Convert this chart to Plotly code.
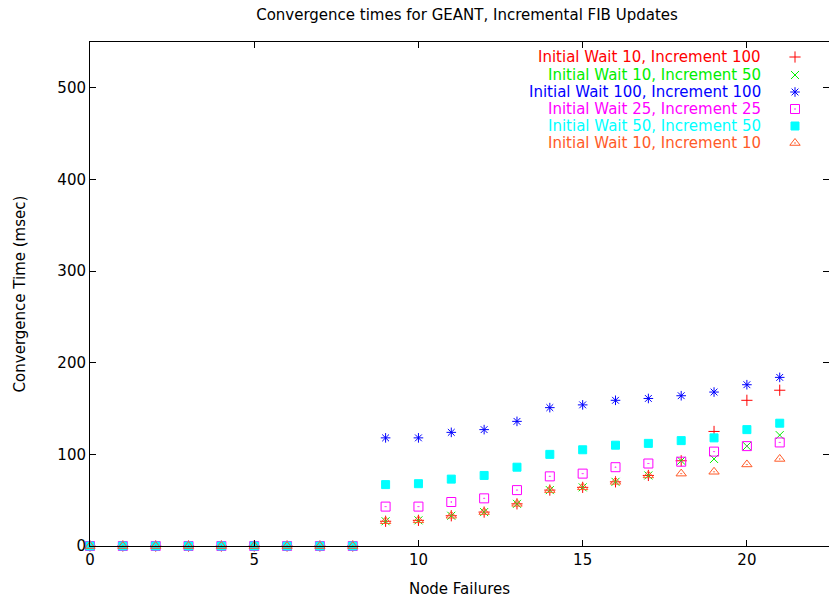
import plotly.graph_objects as go

# Node failure counts on the x axis
node_failures = list(range(22))

# Convergence times (msec) for each timer configuration
zeros = [0] * 9
wait10_inc100 = zeros + [27, 28, 33, 37, 46, 61, 64, 70, 77, 93, 125, 159, 170]
wait10_inc50 = zeros + [27, 28, 33, 37, 46, 61, 64, 70, 77, 93, 95, 109, 121]
wait100_inc100 = zeros + [118, 118, 124, 127, 136, 151, 154, 159, 161, 164, 168, 176, 184]
wait25_inc25 = zeros + [43, 43, 48, 52, 61, 76, 79, 86, 90, 92, 103, 109, 113]
wait50_inc50 = zeros + [67, 68, 73, 77, 86, 100, 105, 110, 112, 115, 118, 127, 134]
wait10_inc10 = zeros + [27, 28, 33, 37, 46, 61, 64, 70, 77, 79, 81, 89, 95]

series_names = [
    "Initial Wait 10, Increment 100",
    "Initial Wait 10, Increment 50",
    "Initial Wait 100, Increment 100",
    "Initial Wait 25, Increment 25",
    "Initial Wait 50, Increment 50",
    "Initial Wait 10, Increment 10",
]
series_values = [wait10_inc100, wait10_inc50, wait100_inc100,
                 wait25_inc25, wait50_inc50, wait10_inc10]
colors = ["#ff0000", "#00ee00", "#0000ff", "#ff00ff", "#00ffff", "#ff5a28"]
symbols = ["cross-thin-open", "x-thin-open", "asterisk-open",
           "square-open-dot", "square", "triangle-up-open-dot"]
sizes = [8, 8, 8, 9, 8, 9]

x_ticks = [0, 5, 10, 15, 20]
y_ticks = [0, 100, 200, 300, 400, 500]

W, H = 829, 598
ML, MT, MB, MR = 90, 42, 52, 0
FONT = "DejaVu Sans, Liberation Sans, Arial, sans-serif"
FS = 15

fig = go.Figure()
for name, vals, c, s, sz in zip(series_names, series_values, colors, symbols, sizes):
    fig.add_trace(go.Scatter(
        x=node_failures, y=vals, mode="markers", name=name, showlegend=False,
        marker=dict(symbol=s, size=sz, color=c, line=dict(color=c, width=1)),
        cliponaxis=False,
    ))

# Key drawn in the top-right corner: right-aligned labels with the symbol after them
plot_w = W - ML - MR
plot_h = H - MT - MB
key_rows_px = [57, 75, 92, 109, 126, 143]
key_sym_x = (795 - ML) / plot_w
key_text_x = (763 - ML) / plot_w
for name, c, s, sz, ypx in zip(series_names, colors, symbols, sizes, key_rows_px):
    yk = (H - MB - ypx) / plot_h
    fig.add_trace(go.Scatter(
        x=[key_sym_x], y=[yk], xaxis="x2", yaxis="y2", mode="markers",
        showlegend=False, hoverinfo="skip",
        marker=dict(symbol=s, size=sz, color=c, line=dict(color=c, width=1)),
    ))
    fig.add_annotation(
        x=key_text_x, y=yk, xref="paper", yref="paper", text=name,
        showarrow=False, xanchor="right", yanchor="middle",
        font=dict(family=FONT, size=FS, color=c),
    )

axis_common = dict(
    showgrid=False, zeroline=False, showline=True, linecolor="black", linewidth=1,
    mirror="allticks", ticks="inside", ticklen=6, tickcolor="black", tickwidth=1,
    tickfont=dict(family=FONT, size=FS, color="black"),
)

fig.update_layout(
    width=W, height=H,
    margin=dict(l=ML, r=MR, t=MT, b=MB),
    paper_bgcolor="white", plot_bgcolor="white",
    title=dict(text="Convergence times for GEANT, Incremental FIB Updates",
               x=467 / W, xanchor="center", y=1 - 15 / H, yanchor="middle",
               font=dict(family=FONT, size=FS, color="black")),
    xaxis=dict(range=[0, 22.5], tickvals=x_ticks,
               title=dict(text="Node Failures", standoff=16,
                          font=dict(family=FONT, size=FS, color="black")),
               **axis_common),
    yaxis=dict(range=[0, 550], tickvals=y_ticks,
               title=dict(text="Convergence Time (msec)", standoff=28,
                          font=dict(family=FONT, size=FS, color="black")),
               **axis_common),
    xaxis2=dict(range=[0, 1], overlaying="x", visible=False, fixedrange=True),
    yaxis2=dict(range=[0, 1], overlaying="y", visible=False, fixedrange=True),
    showlegend=False,
)

fig.write_html("out.html")
